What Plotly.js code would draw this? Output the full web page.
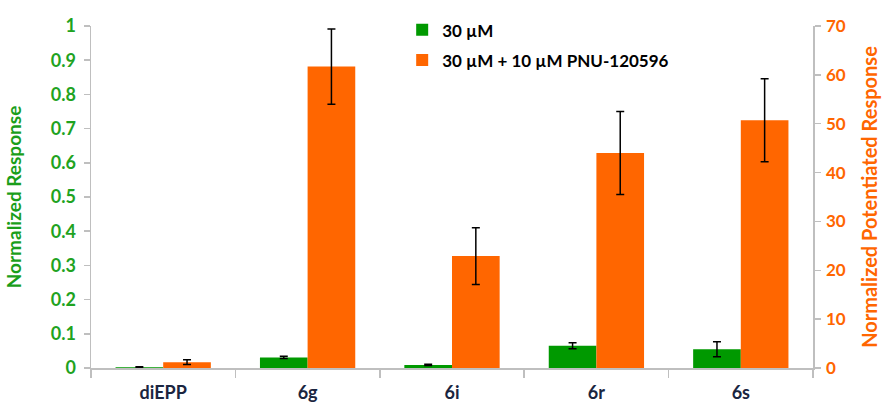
<!DOCTYPE html>
<html>
<head>
<meta charset="utf-8">
<script src="https://cdn.plot.ly/plotly-3.0.1.min.js"></script>
<style>html,body{margin:0;padding:0;background:#fff}#chart{width:887px;height:403px}</style>
</head>
<body>
<div id="chart"></div>
<script>
var categories = ['diEPP', '6g', '6i', '6r', '6s'];
var normResponse = [0.002, 0.031, 0.009, 0.065, 0.055];
var normResponseErr = [0.002, 0.003, 0.002, 0.009, 0.022];
var potentiated = [1.2, 61.7, 22.9, 44.0, 50.7];
var potentiatedErr = [0.5, 7.7, 5.8, 8.5, 8.5];
var leftTicks = [0, 0.1, 0.2, 0.3, 0.4, 0.5, 0.6, 0.7, 0.8, 0.9, 1];
var rightTicks = [0, 10, 20, 30, 40, 50, 60, 70];
var seriesNames = ['30 µM', '30 µM + 10 µM PNU-120596'];

var green = '#009900', orange = '#ff6600';
var labelFont = 'Lato, "Open Sans", sans-serif';

var traces = [
  {
    type: 'bar', name: seriesNames[0], x: categories, y: normResponse,
    yaxis: 'y', width: 0.33, offset: -0.33,
    marker: {color: green, line: {width: 0}},
    error_y: {type: 'data', array: normResponseErr, visible: true, color: '#000', thickness: 1.5, width: 4},
    legendgroup: 'a'
  },
  {
    type: 'bar', name: seriesNames[1], x: categories, y: potentiated,
    yaxis: 'y2', width: 0.33, offset: 0,
    marker: {color: orange, line: {width: 0}},
    error_y: {type: 'data', array: potentiatedErr, visible: true, color: '#000', thickness: 1.5, width: 4},
    legendgroup: 'b'
  }
];

var layout = {
  width: 887, height: 403,
  margin: {l: 91, r: 74, t: 21, b: 35},
  paper_bgcolor: '#fff', plot_bgcolor: '#fff',
  font: {family: labelFont},
  showlegend: true,
  legend: {
    x: 0.431, xanchor: 'left', y: 1.04, yanchor: 'top',
    font: {family: labelFont, size: 17, color: '#000', weight: 'bold'},
    traceorder: 'grouped', tracegroupgap: 5,
    bgcolor: 'rgba(0,0,0,0)', itemwidth: 30
  },
  xaxis: {
    type: 'category', showgrid: false, zeroline: false,
    showline: true, linecolor: '#bfbfbf', linewidth: 1.5,
    ticks: 'outside', tickson: 'boundaries', ticklen: 8, tickcolor: '#bfbfbf', tickwidth: 1.5,
    tickfont: {family: labelFont, size: 18, color: '#1a2540', weight: 'bold'},
    ticklabelstandoff: 8,
    range: [-0.5, 4.5], fixedrange: true
  },
  yaxis: {
    range: [0, 1], tickvals: leftTicks, ticktext: leftTicks.map(String),
    showgrid: false, zeroline: false,
    showline: true, linecolor: '#bfbfbf', linewidth: 1.5,
    ticks: 'outside', ticklen: 6, tickcolor: '#bfbfbf', tickwidth: 1.5,
    tickfont: {family: labelFont, size: 18, color: '#1fa31f', weight: 'bold'},
    ticklabelstandoff: 4,
    title: {text: 'Normalized Response', font: {family: labelFont, size: 19, color: '#1a9e1a', weight: 'bold'}, standoff: 24}
  },
  yaxis2: {
    range: [0, 70], tickvals: rightTicks, ticktext: rightTicks.map(String),
    overlaying: 'y', side: 'right', anchor: 'x',
    showgrid: false, zeroline: false,
    showline: true, linecolor: '#bfbfbf', linewidth: 1.5,
    ticks: 'outside', ticklen: 6, tickcolor: '#bfbfbf', tickwidth: 1.5,
    tickfont: {family: labelFont, size: 17, color: '#ff6600', weight: 'bold'},
    ticklabelstandoff: 2,
    title: {text: 'Normalized Potentiated Response', font: {family: labelFont, size: 20, color: '#ff6600', weight: 'bold'}, standoff: 18}
  }
};

Plotly.newPlot('chart', traces, layout, {displayModeBar: false, staticPlot: true});
</script>
</body>
</html>
